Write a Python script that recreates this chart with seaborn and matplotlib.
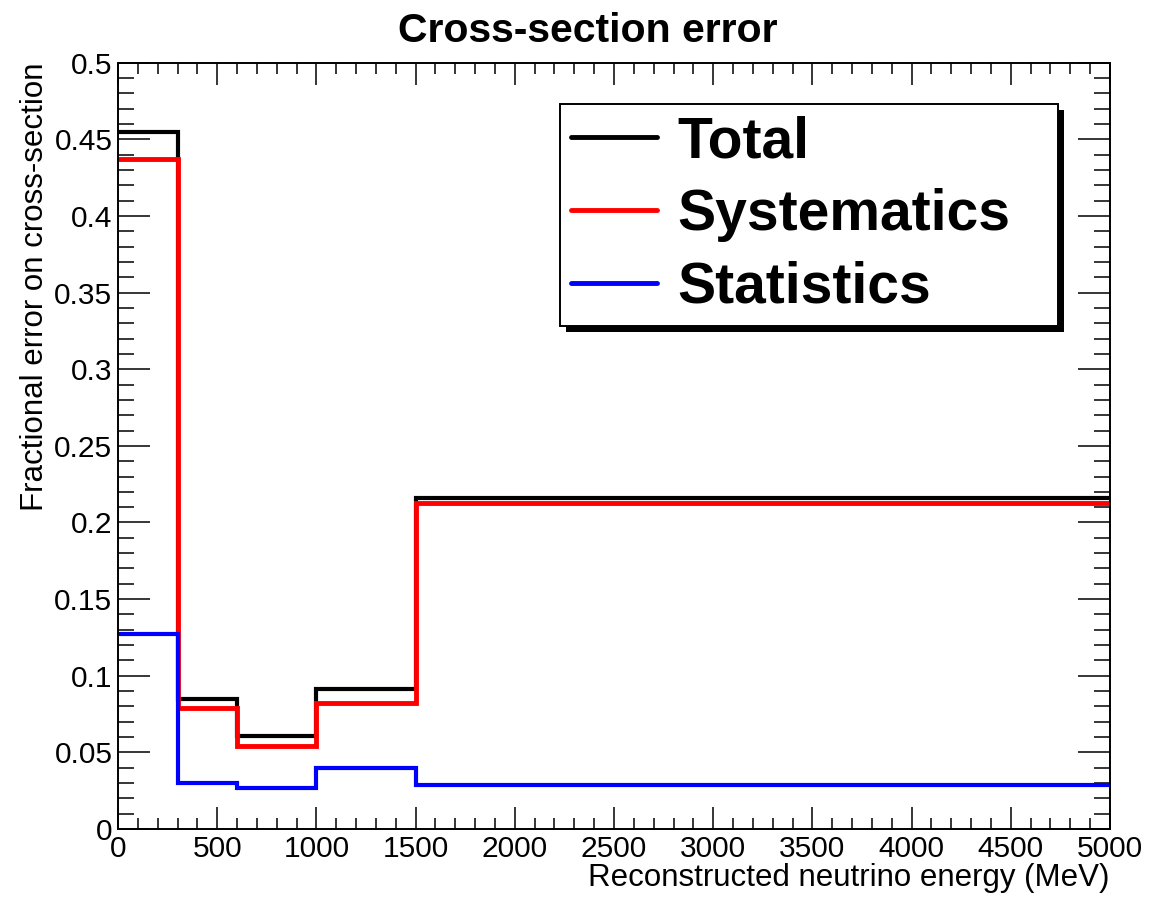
import numpy as np
import pandas as pd
import matplotlib
matplotlib.use("Agg")
import matplotlib.pyplot as plt
from matplotlib.patches import Rectangle
from matplotlib.ticker import MultipleLocator
import seaborn as sns

# Bin edges (MeV) and fractional errors per bin
bin_edges = [0, 300, 600, 1000, 1500, 5000]
total_err = [0.455, 0.0846, 0.0607, 0.0915, 0.216]
syst_err = [0.437, 0.079, 0.054, 0.082, 0.213]
stat_err = [0.127, 0.030, 0.027, 0.040, 0.029]

series_names = ["Total", "Systematics", "Statistics"]
series_values = [total_err, syst_err, stat_err]
series_colors = ["#000000", "#ff0000", "#0000ff"]
series_widths = [3.0, 3.5, 3.0]

sns.set_theme(style="ticks")
plt.rcParams["font.family"] = ["Liberation Sans", "DejaVu Sans"]
plt.rcParams["text.color"] = "black"
plt.rcParams["axes.labelcolor"] = "black"
plt.rcParams["xtick.color"] = "black"
plt.rcParams["ytick.color"] = "black"

fig = plt.figure(figsize=(11.5, 9.02), dpi=100)
ax = fig.add_axes([0.1026, 0.0809, 0.8626, 0.8496])

for name, vals, col, lw in zip(series_names, series_values, series_colors, series_widths):
    # repeat the last value so the final bin extends to its upper edge
    df = pd.DataFrame({"E": bin_edges, "err": list(vals) + [vals[-1]]})
    sns.lineplot(data=df, x="E", y="err", ax=ax, color=col, linewidth=lw,
                 drawstyle="steps-post", estimator=None, sort=False,
                 label=name, solid_joinstyle="miter")

ax.set_xlim(0, 5000)
ax.set_ylim(0, 0.5)

ax.xaxis.set_major_locator(MultipleLocator(500))
ax.xaxis.set_minor_locator(MultipleLocator(100))
ax.yaxis.set_minor_locator(MultipleLocator(0.01))
ax.set_yticks(np.arange(0, 0.501, 0.05))
ax.set_yticklabels(["0", "0.05", "0.1", "0.15", "0.2", "0.25", "0.3",
                    "0.35", "0.4", "0.45", "0.5"])

for s in ax.spines.values():
    s.set_linewidth(1.4)
    s.set_color("black")

ax.tick_params(axis="x", which="major", direction="in", length=15.5, width=1.1,
               top=True, bottom=True, labelsize=21.5, pad=4)
ax.tick_params(axis="x", which="minor", direction="in", length=8, width=1.1,
               top=True, bottom=True)
ax.tick_params(axis="y", which="major", direction="in", length=23, width=1.1,
               left=True, right=True, labelsize=21.5, pad=4)
ax.tick_params(axis="y", which="minor", direction="in", length=11.5, width=1.1,
               left=True, right=True)

ax.set_xlabel("Reconstructed neutrino energy (MeV)", fontsize=22.5, loc="right",
              labelpad=0)
ax.set_ylabel("Fractional error on cross-section", fontsize=22.5, loc="top",
              labelpad=3)

fig.text(0.511, 0.966, "Cross-section error", ha="center", va="center",
         fontsize=29.5, fontweight="bold")

leg = ax.legend(loc="upper left", bbox_to_anchor=(0.4456, 0.6577, 0.502, 0.2885),
                mode="expand", frameon=True, fancybox=False, shadow=False,
                prop={"size": 41, "weight": "bold"}, handlelength=1.5,
                handletextpad=0.36, labelspacing=0.33, borderpad=0.2,
                borderaxespad=0, handleheight=0.7)
for t in leg.get_texts():
    t.set_color("black")
frame = leg.get_frame()
frame.set_edgecolor("black")
frame.set_linewidth(1.4)
frame.set_alpha(1)
for h in leg.get_lines():
    h.set_linewidth(3.5)

# drop shadow behind the legend box
fig.canvas.draw()
bb = leg.get_window_extent().transformed(ax.transAxes.inverted())
dx, dy = 6 / (0.8626 * 1150), 6 / (0.8496 * 902)
shadow = Rectangle((bb.x0 + dx, bb.y0 - dy), bb.width, bb.height,
                   transform=ax.transAxes, facecolor="black", edgecolor="none",
                   zorder=leg.get_zorder() - 0.1, clip_on=False)
ax.add_patch(shadow)

fig.savefig("out.png", dpi=100, facecolor="white")
